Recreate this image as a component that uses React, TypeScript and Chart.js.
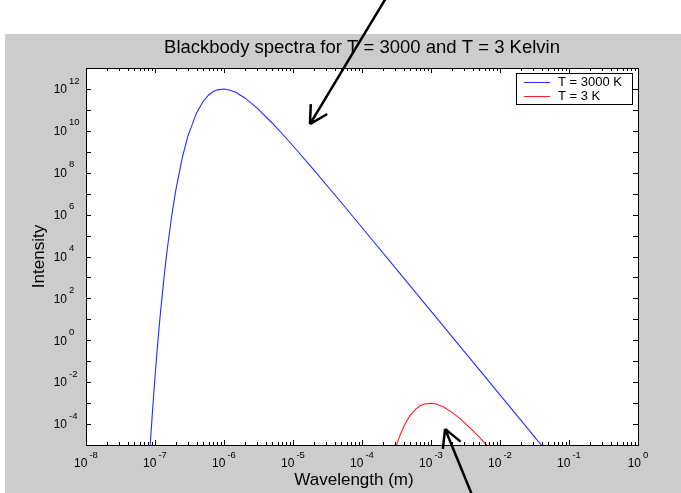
import { useEffect, useRef } from 'react';
import { Chart, registerables } from 'chart.js';

Chart.register(...registerables);

// ---- data ----
const wavelengths3000 = [
  8.5e-8, 9e-8, 9.5e-8, 1e-7, 1.1e-7, 1.2e-7, 1.35e-7, 1.5e-7, 1.75e-7, 2e-7,
  2.5e-7, 3e-7, 4e-7, 5e-7, 6e-7, 7e-7, 8e-7, 1e-6, 1.2e-6, 1.5e-6,
  2e-6, 3e-6, 5e-6, 1e-5, 2e-5, 5e-5, 1e-4, 3e-4, 1e-3, 1e-2, 3e-2, 4e-2,
];
const intensity3000 = [
  8.5e-6, 1.45e-4, 1.83e-3, 1.76e-2, 0.86, 20.9, 985, 2.04e4, 9.1e5, 1.43e7,
  5.7e8, 5.6e9, 7.2e10, 2.6e11, 5.17e11, 7.5e11, 9.07e11, 9.93e11, 8.96e11, 6.69e11,
  3.72e11, 1.24e11, 2.37e10, 1.94e9, 1.37e8, 3.78e6, 2.42e5, 3.04e3, 24.8, 2.48e-3, 3.06e-5, 9.7e-6,
];
const wavelengths3 = [
  3.1e-4, 3.3e-4, 3.6e-4, 4e-4, 4.5e-4, 5e-4, 6e-4, 7e-4, 8e-4, 1e-3,
  1.2e-3, 1.5e-3, 2e-3, 2.5e-3, 3e-3, 4e-3, 5e-3, 6e-3, 7e-3,
];
const intensity3 = [
  7.9e-6, 1.49e-5, 3.2e-5, 7.2e-5, 1.5e-4, 2.6e-4, 5.2e-4, 7.5e-4, 9.1e-4, 9.9e-4,
  9.0e-4, 6.7e-4, 3.7e-4, 2.1e-4, 1.24e-4, 5.0e-5, 2.4e-5, 1.25e-5, 7.3e-6,
];

const seriesLabels = ['T = 3000 K', 'T = 3 K'];
const seriesColors = ['#2a2aff', '#ff1c1c'];

const xExponents = [-8, -7, -6, -5, -4, -3, -2, -1, 0];
const yTickExponents = [-5, -4, -3, -2, -1, 0, 1, 2, 3, 4, 5, 6, 7, 8, 9, 10, 11, 12, 13];
const yLabelExponents = [12, 10, 8, 6, 4, 2, 0, -2, -4];

const titleText = 'Blackbody spectra for T = 3000 and T = 3 Kelvin';
const xTitle = 'Wavelength (m)';
const yTitle = 'Intensity';

// annotation arrows: tip in data coordinates, tail as pixel offset
const arrowTips = [
  { x: 1.76e-5, y: 2.1e10, dx: 76, dy: -126 },
  { x: 1.6e-3, y: 5.8e-5, dx: 27, dy: 66 },
];

const FONT = '"Liberation Sans", Arial, Helvetica, sans-serif';

function drawArrow(ctx: CanvasRenderingContext2D, tx: number, ty: number, sx: number, sy: number) {
  const ang = Math.atan2(sy - ty, sx - tx);
  ctx.beginPath();
  ctx.moveTo(sx, sy);
  ctx.lineTo(tx, ty);
  for (const s of [-1, 1]) {
    const a = ang + s * 0.5;
    ctx.moveTo(tx, ty);
    ctx.lineTo(tx + 20 * Math.cos(a), ty + 20 * Math.sin(a));
  }
  ctx.stroke();
}

const matlabPlugin = {
  id: 'matlabLook',
  beforeDraw(chart: any) {
    const { ctx, chartArea: a, width, height } = chart;
    ctx.save();
    ctx.fillStyle = '#ffffff';
    ctx.fillRect(0, 0, width, height);
    ctx.fillStyle = '#cccccc';
    ctx.fillRect(5, 34, width - 5, height - 34);
    ctx.fillStyle = '#ffffff';
    ctx.fillRect(a.left, a.top, a.right - a.left, a.bottom - a.top);
    ctx.restore();
  },
  afterDatasetsDraw(chart: any) {
    const { ctx, chartArea: a } = chart;
    const xs = chart.scales.x;
    const ys = chart.scales.y;
    ctx.save();
    // frame
    ctx.strokeStyle = '#000';
    ctx.lineWidth = 1;
    ctx.strokeRect(Math.round(a.left) + 0.5, Math.round(a.top) + 0.5, Math.round(a.right - a.left), Math.round(a.bottom - a.top));
    // x ticks
    ctx.beginPath();
    for (let i = 0; i < xExponents.length; i++) {
      const e = xExponents[i];
      const ks = e === 0 ? [1] : [1, 2, 3, 4, 5, 6, 7, 8, 9];
      for (const k of ks) {
        const v = k * Math.pow(10, e);
        const px = Math.round(xs.getPixelForValue(v)) + 0.5;
        const len = k === 1 ? 5 : 3;
        ctx.moveTo(px, a.bottom);
        ctx.lineTo(px, a.bottom - len);
        ctx.moveTo(px, a.top);
        ctx.lineTo(px, a.top + len);
      }
    }
    // y ticks
    for (const e of yTickExponents) {
      const py = Math.round(ys.getPixelForValue(Math.pow(10, e))) + 0.5;
      ctx.moveTo(a.left, py);
      ctx.lineTo(a.left + 5, py);
      ctx.moveTo(a.right, py);
      ctx.lineTo(a.right - 5, py);
    }
    ctx.stroke();

    // tick labels
    const baseFont = `12px ${FONT}`;
    const expFont = `9.5px ${FONT}`;
    ctx.fillStyle = '#000';
    ctx.textBaseline = 'middle';
    for (const e of xExponents) {
      const px = xs.getPixelForValue(Math.pow(10, e));
      ctx.font = baseFont;
      const w1 = ctx.measureText('10').width;
      ctx.font = expFont;
      const es = String(e);
      const w2 = ctx.measureText(es).width;
      const gap = 2;
      const start = px - (w1 + gap + w2) / 2;
      ctx.textAlign = 'left';
      ctx.font = baseFont;
      ctx.fillText('10', start, a.bottom + 19);
      ctx.font = expFont;
      ctx.fillText(es, start + w1 + gap, a.bottom + 10);
    }
    for (const e of yLabelExponents) {
      const py = ys.getPixelForValue(Math.pow(10, e));
      ctx.font = baseFont;
      ctx.textAlign = 'right';
      ctx.fillText('10', a.left - 19, py + 1);
      ctx.font = expFont;
      ctx.textAlign = 'left';
      ctx.fillText(String(e), a.left - 17, py - 8);
    }

    // title and axis titles
    ctx.textAlign = 'center';
    ctx.font = `18.5px ${FONT}`;
    ctx.fillText(titleText, (a.left + a.right) / 2, 48);
    ctx.font = `17px ${FONT}`;
    ctx.fillText(xTitle, (a.left + a.right) / 2 - 8, 480);
    ctx.save();
    ctx.translate(39, (a.top + a.bottom) / 2);
    ctx.rotate(-Math.PI / 2);
    ctx.fillText(yTitle, 0, 0);
    ctx.restore();

    // legend box
    const lx = a.right - 122;
    const ly = a.top + 5;
    const lw = 116;
    const lh = 31;
    ctx.fillStyle = '#fff';
    ctx.fillRect(lx + 0.5, ly + 0.5, lw, lh);
    ctx.strokeStyle = '#000';
    ctx.strokeRect(lx + 0.5, ly + 0.5, lw, lh);
    ctx.font = `13px ${FONT}`;
    ctx.textAlign = 'left';
    for (let i = 0; i < seriesLabels.length; i++) {
      const yy = ly + 9.5 + i * 14;
      ctx.strokeStyle = seriesColors[i];
      ctx.beginPath();
      ctx.moveTo(lx + 8, yy);
      ctx.lineTo(lx + 34, yy);
      ctx.stroke();
      ctx.fillStyle = '#000';
      ctx.fillText(seriesLabels[i], lx + 42, yy);
    }
    ctx.restore();
  },
  afterDraw(chart: any) {
    const { ctx } = chart;
    const xs = chart.scales.x;
    const ys = chart.scales.y;
    ctx.save();
    ctx.strokeStyle = '#000';
    ctx.lineWidth = 2.5;
    ctx.lineCap = 'butt';
    ctx.lineJoin = 'miter';
    for (const t of arrowTips) {
      const tx = xs.getPixelForValue(t.x);
      const ty = ys.getPixelForValue(t.y);
      drawArrow(ctx, tx, ty, tx + t.dx, ty + t.dy);
    }
    ctx.restore();
  },
};

export default function App() {
  const ref = useRef<HTMLCanvasElement>(null);
  useEffect(() => {
    if (!ref.current) return;
    const chart = new Chart(ref.current, {
      type: 'line',
      data: {
        datasets: [
          {
            label: seriesLabels[0],
            data: wavelengths3000.map((w, i) => ({ x: w, y: intensity3000[i] })),
            borderColor: seriesColors[0],
            borderWidth: 1.1,
            pointRadius: 0,
            tension: 0,
          },
          {
            label: seriesLabels[1],
            data: wavelengths3.map((w, i) => ({ x: w, y: intensity3[i] })),
            borderColor: seriesColors[1],
            borderWidth: 1.1,
            pointRadius: 0,
            tension: 0,
          },
        ],
      },
      options: {
        responsive: false,
        animation: false,
        devicePixelRatio: 1,
        layout: { padding: { left: 86, top: 68, right: 43, bottom: 48 } },
        plugins: {
          legend: { display: false },
          title: { display: false },
          tooltip: { enabled: false },
        },
        scales: {
          x: { type: 'logarithmic', min: 1e-8, max: 1, display: false },
          y: { type: 'logarithmic', min: 1e-5, max: 1e13, display: false },
        },
      },
      plugins: [matlabPlugin],
    } as any);
    return () => chart.destroy();
  }, []);
  return (
    <div style={{ position: 'fixed', left: 0, top: 0, width: 681, height: 493 }}>
      <canvas ref={ref} width={681} height={493} style={{ display: 'block', width: 681, height: 493 }} />
    </div>
  );
}
